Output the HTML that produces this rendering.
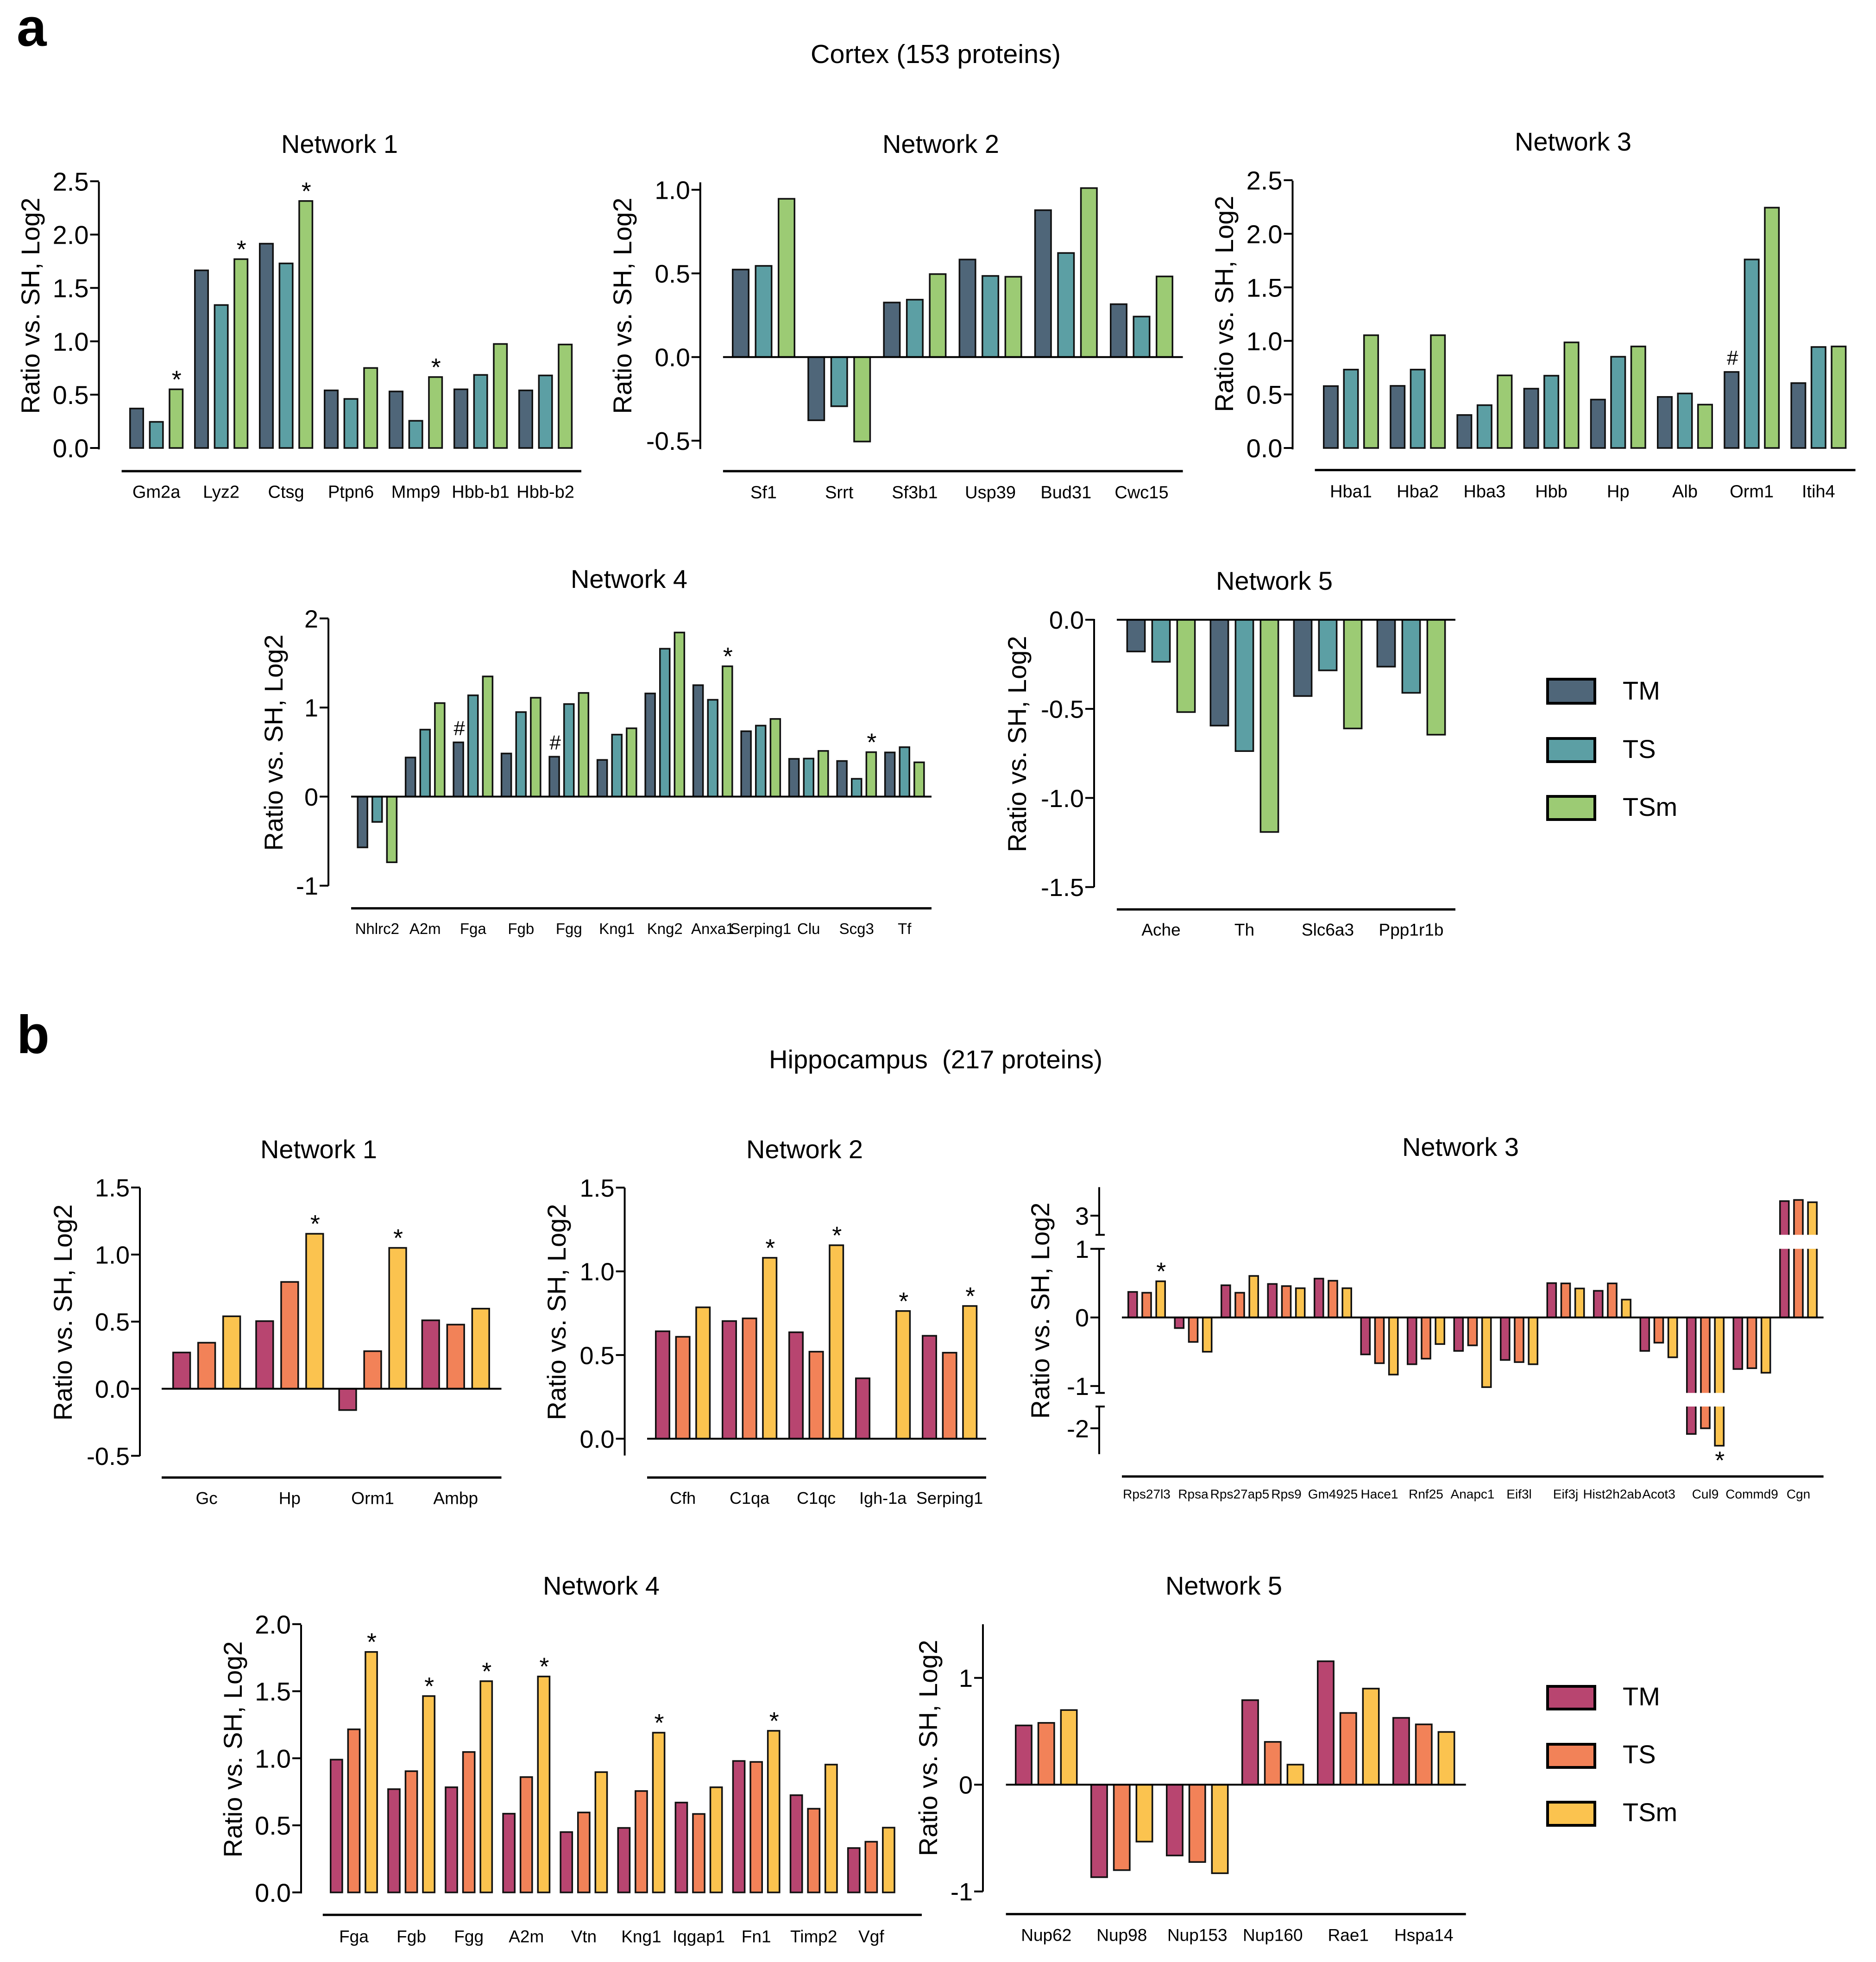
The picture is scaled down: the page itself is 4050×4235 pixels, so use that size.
<!DOCTYPE html>
<html lang="en">
<head>
<meta charset="utf-8">
<title>Cortex and hippocampus protein networks</title>
<style>
html,body{margin:0;padding:0;background:#fff}
svg{display:block}
text{font-family:"Liberation Sans",Arial,sans-serif;fill:#000}
</style>
</head>
<body>
<svg id="figure" xmlns="http://www.w3.org/2000/svg" width="4050" height="4235" viewBox="0 0 4050 4235">
<rect x="0" y="0" width="4050" height="4235" fill="#fff"/>
<text x="36" y="99" font-size="116" font-weight="700">a</text>
<text x="36" y="2273" font-size="116" font-weight="700">b</text>
<text x="2020" y="136" font-size="57" text-anchor="middle" textLength="540" lengthAdjust="spacingAndGlyphs">Cortex (153 proteins)</text>
<text x="2020" y="2306" font-size="56" text-anchor="middle" textLength="720" lengthAdjust="spacingAndGlyphs">Hippocampus&#160;&#160;(217 proteins)</text>

<g>
<rect x="3341" y="1466" width="102" height="52" fill="#4f6679" stroke="#000" stroke-width="6"/>
<text x="3503" y="1510" font-size="56">TM</text>
<rect x="3341" y="1594" width="102" height="50" fill="#5c9fa4" stroke="#000" stroke-width="6"/>
<text x="3503" y="1636" font-size="56">TS</text>
<rect x="3341" y="1719" width="102" height="50" fill="#9ccb74" stroke="#000" stroke-width="6"/>
<text x="3503" y="1761" font-size="56">TSm</text>
</g>
<g>
<rect x="3341" y="3640" width="102" height="49" fill="#b84570" stroke="#000" stroke-width="6"/>
<text x="3503" y="3681" font-size="56">TM</text>
<rect x="3341" y="3765" width="102" height="50" fill="#f28258" stroke="#000" stroke-width="6"/>
<text x="3503" y="3806" font-size="56">TS</text>
<rect x="3341" y="3890" width="102" height="50" fill="#fbc34f" stroke="#000" stroke-width="6"/>
<text x="3503" y="3931" font-size="56">TSm</text>
</g>
</svg>
<script>
const cortexColors = ['#4f6679', '#5c9fa4', '#9ccb74'];
const hippoColors = ['#b84570', '#f28258', '#fbc34f'];
const seriesNames = ['tm', 'ts', 'tsm'];

// Cortex Network 1
const a1Categories = ['Gm2a', 'Lyz2', 'Ctsg', 'Ptpn6', 'Mmp9', 'Hbb-b1', 'Hbb-b2'];
const a1TM = [0.37, 1.665, 1.915, 0.54, 0.53, 0.55, 0.54];
const a1TS = [0.245, 1.34, 1.73, 0.46, 0.255, 0.685, 0.68];
const a1TSm = [0.55, 1.77, 2.315, 0.75, 0.665, 0.975, 0.97];
const a1Ticks = [0, 0.5, 1, 1.5, 2, 2.5];
const a1TickLabels = ['0.0', '0.5', '1.0', '1.5', '2.0', '2.5'];
const a1Marks = [[0, 2, '*'], [1, 2, '*'], [2, 2, '*'], [4, 2, '*']];

// Cortex Network 2
const a2Categories = ['Sf1', 'Srrt', 'Sf3b1', 'Usp39', 'Bud31', 'Cwc15'];
const a2TM = [0.523, -0.378, 0.326, 0.583, 0.878, 0.316];
const a2TS = [0.545, -0.294, 0.343, 0.485, 0.622, 0.242];
const a2TSm = [0.946, -0.505, 0.496, 0.48, 1.01, 0.482];
const a2Ticks = [-0.5, 0, 0.5, 1];
const a2TickLabels = ['-0.5', '0.0', '0.5', '1.0'];
const a2Marks = [];

// Cortex Network 3
const a3Categories = ['Hba1', 'Hba2', 'Hba3', 'Hbb', 'Hp', 'Alb', 'Orm1', 'Itih4'];
const a3TM = [0.578, 0.58, 0.308, 0.554, 0.452, 0.477, 0.71, 0.606];
const a3TS = [0.732, 0.732, 0.40, 0.675, 0.852, 0.509, 1.76, 0.943];
const a3TSm = [1.053, 1.053, 0.678, 0.986, 0.948, 0.405, 2.244, 0.948];
const a3Ticks = [0, 0.5, 1, 1.5, 2, 2.5];
const a3TickLabels = ['0.0', '0.5', '1.0', '1.5', '2.0', '2.5'];
const a3Marks = [[6, 0, '#']];

// Cortex Network 4
const a4Categories = ['Nhlrc2', 'A2m', 'Fga', 'Fgb', 'Fgg', 'Kng1', 'Kng2', 'Anxa1', 'Serping1', 'Clu', 'Scg3', 'Tf'];
const a4TM = [-0.57, 0.439, 0.609, 0.484, 0.448, 0.412, 1.158, 1.251, 0.734, 0.424, 0.40, 0.496];
const a4TS = [-0.284, 0.752, 1.137, 0.949, 1.039, 0.696, 1.66, 1.087, 0.797, 0.427, 0.20, 0.555];
const a4TSm = [-0.737, 1.05, 1.349, 1.11, 1.164, 0.767, 1.842, 1.463, 0.872, 0.513, 0.499, 0.385];
const a4Ticks = [-1, 0, 1, 2];
const a4TickLabels = ['-1', '0', '1', '2'];
const a4Marks = [[2, 0, '#'], [4, 0, '#'], [7, 2, '*'], [10, 2, '*']];

// Cortex Network 5
const a5Categories = ['Ache', 'Th', 'Slc6a3', 'Ppp1r1b'];
const a5TM = [-0.178, -0.594, -0.428, -0.263];
const a5TS = [-0.236, -0.737, -0.284, -0.41];
const a5TSm = [-0.518, -1.191, -0.61, -0.645];
const a5Ticks = [-1.5, -1, -0.5, 0];
const a5TickLabels = ['-1.5', '-1.0', '-0.5', '0.0'];
const a5Marks = [];

// Hippocampus Network 1
const b1Categories = ['Gc', 'Hp', 'Orm1', 'Ambp'];
const b1TM = [0.27, 0.504, -0.159, 0.51];
const b1TS = [0.343, 0.796, 0.28, 0.478];
const b1TSm = [0.54, 1.155, 1.05, 0.597];
const b1Ticks = [-0.5, 0, 0.5, 1, 1.5];
const b1TickLabels = ['-0.5', '0.0', '0.5', '1.0', '1.5'];
const b1Marks = [[1, 2, '*'], [2, 2, '*']];

// Hippocampus Network 2
const b2Categories = ['Cfh', 'C1qa', 'C1qc', 'Igh-1a', 'Serping1'];
const b2TM = [0.642, 0.703, 0.636, 0.361, 0.615];
const b2TS = [0.609, 0.719, 0.52, null, 0.514];
const b2TSm = [0.785, 1.081, 1.156, 0.763, 0.793];
const b2Ticks = [0, 0.5, 1, 1.5];
const b2TickLabels = ['0.0', '0.5', '1.0', '1.5'];
const b2Marks = [[1, 2, '*'], [2, 2, '*'], [3, 2, '*'], [4, 2, '*']];

// Hippocampus Network 3
const b3Categories = ['Rps27l3', 'Rpsa', 'Rps27ap5', 'Rps9', 'Gm4925', 'Hace1', 'Rnf25', 'Anapc1', 'Eif3l', 'Eif3j', 'Hist2h2ab', 'Acot3', 'Cul9', 'Commd9', 'Cgn'];
const b3TM = [0.372, -0.155, 0.469, 0.488, 0.566, -0.539, -0.682, -0.488, -0.62, 0.5, 0.388, -0.488, -2.13, -0.752, 3.38];
const b3TS = [0.36, -0.357, 0.36, 0.457, 0.535, -0.667, -0.601, -0.407, -0.651, 0.496, 0.496, -0.368, -2.0, -0.74, 3.41];
const b3TSm = [0.527, -0.5, 0.605, 0.426, 0.426, -0.833, -0.388, -1.016, -0.682, 0.422, 0.26, -0.581, -2.4, -0.806, 3.35];
const b3Ticks = [-2, -1, 0, 1, 3];
const b3TickLabels = ['-2', '-1', '0', '1', '3'];
const b3Marks = [[0, 2, '*'], [12, 2, '*']];

// Hippocampus Network 4
const b4Categories = ['Fga', 'Fgb', 'Fgg', 'A2m', 'Vtn', 'Kng1', 'Iqgap1', 'Fn1', 'Timp2', 'Vgf'];
const b4TM = [0.99, 0.77, 0.784, 0.587, 0.45, 0.481, 0.67, 0.98, 0.725, 0.331];
const b4TS = [1.216, 0.904, 1.047, 0.86, 0.596, 0.756, 0.585, 0.973, 0.624, 0.378];
const b4TSm = [1.793, 1.464, 1.575, 1.61, 0.897, 1.191, 0.784, 1.205, 0.953, 0.483];
const b4Ticks = [0, 0.5, 1, 1.5, 2];
const b4TickLabels = ['0.0', '0.5', '1.0', '1.5', '2.0'];
const b4Marks = [[0, 2, '*'], [1, 2, '*'], [2, 2, '*'], [3, 2, '*'], [5, 2, '*'], [7, 2, '*']];

// Hippocampus Network 5
const b5Categories = ['Nup62', 'Nup98', 'Nup153', 'Nup160', 'Rae1', 'Hspa14'];
const b5TM = [0.555, -0.866, -0.663, 0.792, 1.156, 0.626];
const b5TS = [0.579, -0.80, -0.724, 0.401, 0.672, 0.565];
const b5TSm = [0.699, -0.533, -0.829, 0.188, 0.90, 0.494];
const b5Ticks = [-1, 0, 1];
const b5TickLabels = ['-1', '0', '1'];
const b5Marks = [];

function linearAxis(zeroPx, pxPerUnit) {
  return function (v) { return zeroPx - v * pxPerUnit; };
}

// Broken axis of hippocampus network 3
function brokenAxis(v) {
  if (v >= 2.5) return 2624 - (v - 3) * 82.7;
  if (v >= -1.3) return 2843.7 - v * 148.1;
  return 3083 - (v + 2) * 94;
}

const charts = [
  {id: 'cortex-network-1', title: 'Network 1', tx: 733, ty: 310, ax: 85, ay: 660, cats: a1Categories, series: [a1TM, a1TS, a1TSm], ticks: a1Ticks, tickLabels: a1TickLabels, marks: a1Marks, colors: cortexColors,
    axisX: 213.5, axisTop: 392.4, axisBottom: 970, yScale: linearAxis(967, 230.3), left: 262.6, right: 1255, bottom: 1017, x0: 279, groupStep: 140, barStep: 42.6, barW: 32, labelY: 1061, labelSize: 38, tickSize: 56, zeroLine: false, baseLineY: 0},
  {id: 'cortex-network-2', title: 'Network 2', tx: 2031, ty: 310, ax: 1363, ay: 660, cats: a2Categories, series: [a2TM, a2TS, a2TSm], ticks: a2Ticks, tickLabels: a2TickLabels, marks: a2Marks, colors: cortexColors,
    axisX: 1511.8, axisTop: 393.5, axisBottom: 969.3, yScale: linearAxis(770.7, 361.1), left: 1560.9, right: 2553.6, bottom: 1017, x0: 1580, groupStep: 163.2, barStep: 49.5, barW: 38, labelY: 1062, labelSize: 38, tickSize: 55, zeroLine: true},
  {id: 'cortex-network-3', title: 'Network 3', tx: 3396, ty: 305, ax: 2662, ay: 656, cats: a3Categories, series: [a3TM, a3TS, a3TSm], ticks: a3Ticks, tickLabels: a3TickLabels, marks: a3Marks, colors: cortexColors,
    axisX: 2790.5, axisTop: 390, axisBottom: 970, yScale: linearAxis(967, 231.2), left: 2838.6, right: 4005.6, bottom: 1014.6, x0: 2856, groupStep: 144.2, barStep: 43.5, barW: 34, labelY: 1060, labelSize: 38, tickSize: 56, zeroLine: false},
  {id: 'cortex-network-4', title: 'Network 4', tx: 1358, ty: 1249, ax: 610, ay: 1603, cats: a4Categories, series: [a4TM, a4TS, a4TSm], ticks: a4Ticks, tickLabels: a4TickLabels, marks: a4Marks, colors: cortexColors,
    axisX: 709, axisTop: 1335, axisBottom: 1912, yScale: linearAxis(1719.5, 192.3), left: 758, right: 2011, bottom: 1960.6, x0: 770.4, groupStep: 103.5, barStep: 31.6, barW: 24.5, labelY: 2004, labelSize: 33, tickSize: 54, zeroLine: true},
  {id: 'cortex-network-5', title: 'Network 5', tx: 2751, ty: 1253, ax: 2215, ay: 1606, cats: a5Categories, series: [a5TM, a5TS, a5TSm], ticks: a5Ticks, tickLabels: a5TickLabels, marks: a5Marks, colors: cortexColors,
    axisX: 2362, axisTop: 1336, axisBottom: 1915, yScale: linearAxis(1337.8, 384.6), left: 2411, right: 3142, bottom: 1963, x0: 2431.6, groupStep: 180, barStep: 54, barW: 41.8, labelY: 2006, labelSize: 37, tickSize: 54, zeroLine: true},
  {id: 'hippocampus-network-1', title: 'Network 1', tx: 688, ty: 2480, ax: 155, ay: 2833, cats: b1Categories, series: [b1TM, b1TS, b1TSm], ticks: b1Ticks, tickLabels: b1TickLabels, marks: b1Marks, colors: hippoColors,
    axisX: 302, axisTop: 2563.6, axisBottom: 3143, yScale: linearAxis(2997.6, 289.6), left: 349, right: 1082.5, bottom: 3189.3, x0: 372, groupStep: 179.2, barStep: 54, barW: 40.3, labelY: 3233, labelSize: 37, tickSize: 54, zeroLine: true},
  {id: 'hippocampus-network-2', title: 'Network 2', tx: 1737, ty: 2480, ax: 1221, ay: 2832, cats: b2Categories, series: [b2TM, b2TS, b2TSm], ticks: b2Ticks, tickLabels: b2TickLabels, marks: b2Marks, colors: hippoColors,
    axisX: 1348.6, axisTop: 2563.6, axisBottom: 3141.7, yScale: linearAxis(3105.5, 361.3), left: 1397, right: 2129, bottom: 3189.3, x0: 1414, groupStep: 144, barStep: 43.6, barW: 33, labelY: 3233, labelSize: 36, tickSize: 54, zeroLine: true},
  {id: 'hippocampus-network-3', title: 'Network 3', tx: 3153, ty: 2475, ax: 2265, ay: 2829, cats: b3Categories, series: [b3TM, b3TS, b3TSm], ticks: b3Ticks, tickLabels: b3TickLabels, marks: b3Marks, colors: hippoColors,
    axisX: 2373, axisTop: 2562.5, axisBottom: 3138.8, yScale: brokenAxis, left: 2422, right: 3936.7, bottom: 3187, x0: 2434, groupStep: 100.5, barStep: 30.2, barW: 22.6, labelY: 3224.5, labelSize: 28, tickSize: 54, zeroLine: true, breaks: [[1, 2.5], [-1.5, -1.1]]},
  {id: 'hippocampus-network-4', title: 'Network 4', tx: 1298, ty: 3422, ax: 522, ay: 3776, cats: b4Categories, series: [b4TM, b4TS, b4TSm], ticks: b4Ticks, tickLabels: b4TickLabels, marks: b4Marks, colors: hippoColors,
    axisX: 650, axisTop: 3507, axisBottom: 4087, yScale: linearAxis(4084.8, 289.5), left: 696.8, right: 1990, bottom: 4133.3, x0: 712, groupStep: 124.1, barStep: 37.6, barW: 28.7, labelY: 4179, labelSize: 37, tickSize: 56, zeroLine: false},
  {id: 'hippocampus-network-5', title: 'Network 5', tx: 2642, ty: 3422, ax: 2023, ay: 3773, cats: b5Categories, series: [b5TM, b5TS, b5TSm], ticks: b5Ticks, tickLabels: b5TickLabels, marks: b5Marks, colors: hippoColors,
    axisX: 2122, axisTop: 3506, axisBottom: 4083, yScale: linearAxis(3852.3, 230.5), left: 2171.6, right: 3164.7, bottom: 4131.6, x0: 2191, groupStep: 163, barStep: 48.8, barW: 37.9, labelY: 4176, labelSize: 37, tickSize: 54, zeroLine: true}
];

const NS = 'http://www.w3.org/2000/svg';
const figure = document.getElementById('figure');

function make(tag, parent, attrs) {
  const node = document.createElementNS(NS, tag);
  for (const k in attrs) node.setAttribute(k, attrs[k]);
  parent.appendChild(node);
  return node;
}

function hline(parent, x1, x2, y, w) {
  return make('line', parent, {x1: x1, x2: x2, y1: y, y2: y, stroke: '#000', 'stroke-width': w});
}

function vline(parent, x, y1, y2, w) {
  return make('line', parent, {x1: x, x2: x, y1: y1, y2: y2, stroke: '#000', 'stroke-width': w});
}

function drawChart(c) {
  const g = make('g', figure, {});
  
  

  const title = make('text', g, {x: c.tx, y: c.ty + 20, 'font-size': 56, 'text-anchor': 'middle'});
  title.textContent = c.title;
  
  

  const yTitle = make('text', g, {x: c.ax, y: c.ay, 'font-size': 56, 'text-anchor': 'middle', transform: 'rotate(-90 ' + c.ax + ' ' + c.ay + ')'});
  yTitle.textContent = 'Ratio vs. SH, Log2';
  
  

  const zeroY = c.yScale(0);
  const sw = 3.5;

  c.series.forEach(function (values, s) {
    values.forEach(function (v, i) {
      if (v === null) return;
      const xLeft = c.x0 + i * c.groupStep + s * c.barStep;
      const yV = c.yScale(v);
      const top = Math.min(yV, zeroY);
      const h = Math.abs(yV - zeroY);
      const bar = make('rect', g, {x: xLeft + sw / 2, y: top, width: c.barW - sw, height: h, fill: c.colors[s], stroke: '#111', 'stroke-width': sw});
      
      
    });
  });

  (c.breaks || []).forEach(function (b) {
    const y1 = c.yScale(b[1]);
    const y2 = c.yScale(b[0]);
    const gap = make('rect', g, {x: c.axisX - 40, y: Math.min(y1, y2), width: c.right - c.axisX + 40, height: Math.abs(y2 - y1), fill: '#fff'});
    
    
  });

  c.marks.forEach(function (m) {
    const v = c.series[m[1]][m[0]];
    const xc = c.x0 + m[0] * c.groupStep + m[1] * c.barStep + c.barW / 2;
    const yV = c.yScale(v);
    const isHash = m[2] === '#';
    const baseY = v >= 0 ? (isHash ? yV - 16 : yV - 3) : yV + 50;
    const mark = make('text', g, {x: xc + (isHash ? 2 : 1), y: baseY, 'font-size': isHash ? 44 : 54, 'text-anchor': 'middle'});
    mark.textContent = m[2];
    
    
  });

  if (c.zeroLine) {
    const zero = hline(g, c.left, c.right, zeroY, 4);
    
    
  }

  const xAxis = hline(g, c.left, c.right, c.bottom, 5);
  
  

  if (c.breaks) {
    const pts = [[c.axisTop, c.yScale(2.5)], [c.yScale(1), c.yScale(-1.1)], [c.yScale(-1.5), c.axisBottom]];
    pts.forEach(function (p) {
      const seg = vline(g, c.axisX, p[0], p[1], 4);
      
      
    });
    [c.yScale(2.5), c.yScale(1), c.yScale(-1.1), c.yScale(-1.5)].forEach(function (y) {
      const cap = hline(g, c.axisX - 8, c.axisX + 12, y, 4);
      
      
    });
  } else {
    const yAxis = vline(g, c.axisX, c.axisTop, c.axisBottom, 4);
    
    
  }

  c.ticks.forEach(function (t, i) {
    const y = c.yScale(t);
    const tick = hline(g, c.axisX - 19, c.axisX, y, 4);
    
    
    const lab = make('text', g, {x: c.axisX - 22, y: y + c.tickSize * 0.36, 'font-size': c.tickSize, 'text-anchor': 'end'});
    lab.textContent = c.tickLabels[i];
    
    
  });

  c.cats.forEach(function (name, i) {
    const xc = c.x0 + i * c.groupStep + (2 * c.barStep + c.barW) / 2;
    const lab = make('text', g, {x: xc, y: c.labelY + c.labelSize * 0.36, 'font-size': c.labelSize, 'text-anchor': 'middle'});
    lab.textContent = name;
    
    
  });
}

charts.forEach(drawChart);
</script>
</body>
</html>
